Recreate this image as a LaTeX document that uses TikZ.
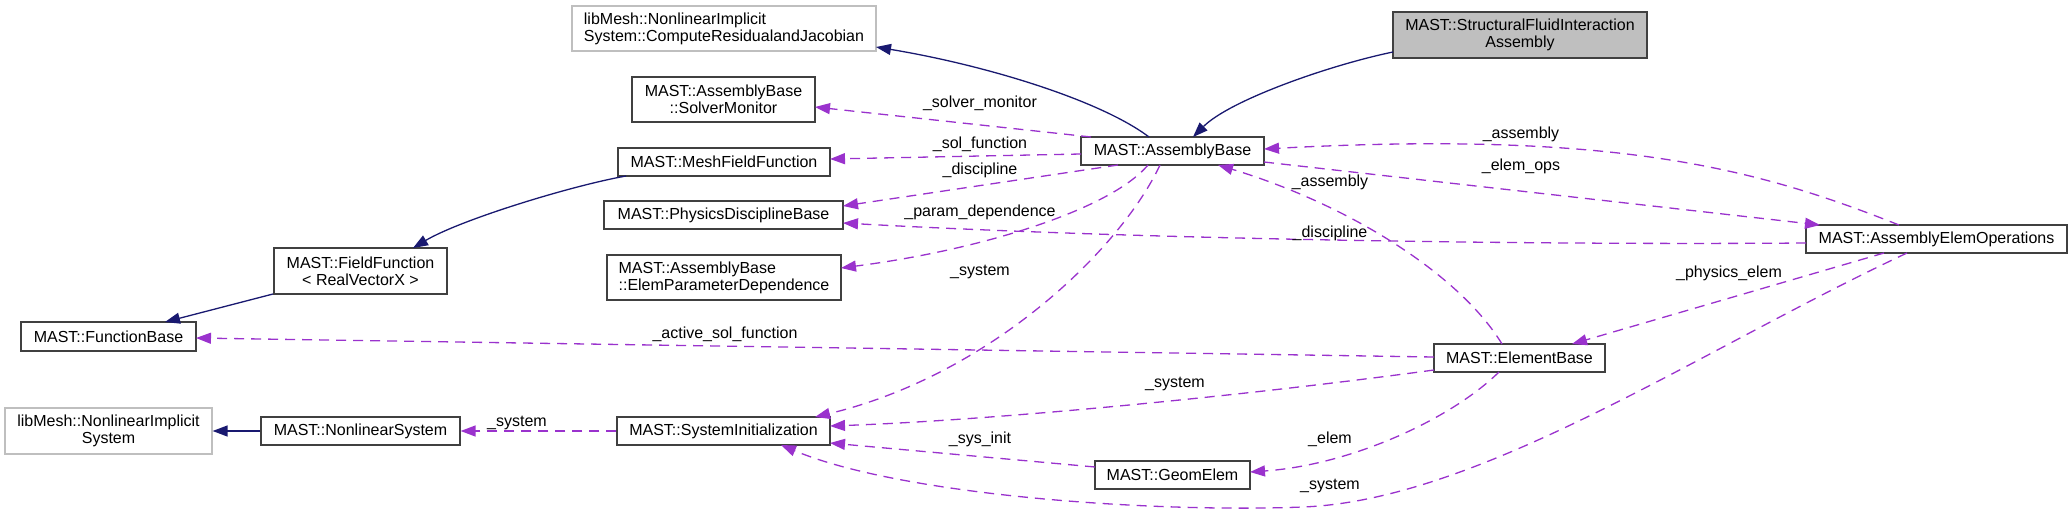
\documentclass[tikz,border=0pt]{standalone}
\usepackage{fontspec}
\setmainfont{Liberation Sans}
\usetikzlibrary{arrows.meta,calc}
\definecolor{navyedge}{HTML}{191970}
\definecolor{useedge}{HTML}{9A32CD}
\definecolor{extgray}{HTML}{BFBFBF}
\definecolor{boxborder}{HTML}{404040}
\newcommand{\dxfont}{\fontsize{16}{17}\selectfont}
\tikzset{
  cls/.style={draw=boxborder, fill=white, line width=1.2pt, inner sep=0pt, font=\dxfont, align=center},
  extcls/.style={cls, draw=extgray},
  curcls/.style={cls, fill=extgray},
  inh/.style={draw=navyedge, line width=1.3pt, -{Triangle[length=15pt,width=11pt]}},
  useline/.style={draw=useedge, line width=1.3pt, dash pattern=on 10pt off 7pt, -{Triangle[length=15pt,width=11pt]}},
  lbl/.style={font=\dxfont, inner sep=0pt, anchor=center}
}
\begin{document}
\begin{tikzpicture}[x=1pt,y=-1pt]
\useasboundingbox (0,0) rectangle (2072,514);
% nodes
\node[extcls, minimum width=304pt, minimum height=45pt, align=left] (lmCR) at (724,28.5) {libMesh::NonlinearImplicit\\System::ComputeResidualandJacobian};
\node[curcls, minimum width=254pt, minimum height=46pt] (sfi) at (1520,35) {MAST::StructuralFluidInteraction\\Assembly};
\node[cls, minimum width=183pt, minimum height=45pt] (sm) at (723.5,99.5) {MAST::AssemblyBase\\::SolverMonitor};
\node[cls, minimum width=212pt, minimum height=28pt] (mff) at (724,162) {MAST::MeshFieldFunction};
\node[cls, minimum width=239pt, minimum height=28pt] (pdb) at (723.5,215) {MAST::PhysicsDisciplineBase};
\node[cls, minimum width=234pt, minimum height=45pt, align=left] (epd) at (724,277.5) {MAST::AssemblyBase\\::ElemParameterDependence};
\node[cls, minimum width=213pt, minimum height=28pt] (si) at (723.5,431) {MAST::SystemInitialization};
\node[cls, minimum width=183pt, minimum height=28pt] (ab) at (1172.5,151) {MAST::AssemblyBase};
\node[cls, minimum width=171pt, minimum height=28pt] (eb) at (1519.5,358) {MAST::ElementBase};
\node[cls, minimum width=155pt, minimum height=28pt] (ge) at (1172.5,475) {MAST::GeomElem};
\node[cls, minimum width=261pt, minimum height=28pt] (aeo) at (1936.5,239) {MAST::AssemblyElemOperations};
\node[cls, minimum width=173pt, minimum height=46pt] (ff) at (360.5,271) {MAST::FieldFunction\\< RealVectorX >};
\node[cls, minimum width=175pt, minimum height=29pt] (fb) at (108.5,336.5) {MAST::FunctionBase};
\node[extcls, minimum width=207pt, minimum height=46pt] (lmS) at (108.5,431) {libMesh::NonlinearImplicit\\System};
\node[cls, minimum width=199pt, minimum height=28pt] (nls) at (360.5,431) {MAST::NonlinearSystem};
% inheritance edges
\draw[inh] ($(ab.center)+(-23.5,-14)$) .. controls (1100,100) and (985,65) .. ($(lmCR.center)+(152,18.5)$);
\draw[inh] ($(sfi.center)+(-127,17)$) .. controls (1330,65) and (1230,100) .. ($(ab.center)+(20.5,-14)$);
\draw[inh] ($(mff.center)+(-98,14)$) .. controls (570,186) and (460,220) .. ($(ff.center)+(52.5,-23)$);
\draw[inh] ($(ff.center)+(-87.5,23)$) -- ($(fb.center)+(56.5,-14.5)$);
\draw[inh] (nls.west) -- (lmS.east);
% usage edges
\draw[useline] ($(ab.center)+(-81.5,-14)$) -- ($(sm.center)+(91.5,7.5)$);
\draw[useline] ($(ab.center)+(-91.5,3)$) -- ($(mff.center)+(106,-3)$);
\draw[useline] ($(ab.center)+(-54.5,14)$) -- ($(pdb.center)+(119.5,-9)$);
\draw[useline] ($(aeo.center)+(-130.5,4)$) .. controls (1550,245) and (1150,240) .. ($(pdb.center)+(119.5,8)$);
\draw[useline] ($(ab.center)+(-24.5,14)$) .. controls (1110,210) and (980,250) .. ($(epd.center)+(117,-9.5)$);
\draw[useline] ($(ab.center)+(-12.5,14)$) .. controls (1120,250) and (990,375) .. ($(si.center)+(91.5,-14)$);
\draw[useline] ($(eb.center)+(-17.5,-14)$) .. controls (1460,275) and (1350,205) .. ($(ab.center)+(45.5,14)$);
\draw[useline] ($(ab.center)+(91.5,11)$) -- ($(aeo.center)+(-116.5,-14)$);
\draw[useline] ($(aeo.center)+(-37.5,-14)$) .. controls (1760,170) and (1620,130) .. ($(ab.center)+(91.5,-2)$);
\draw[useline] ($(aeo.center)+(-52.5,14)$) -- ($(eb.center)+(52.5,-14)$);
\draw[useline] ($(aeo.center)+(-29.5,14)$) .. controls (1700,350) and (1480,500) .. (1303,507) .. controls (1150,513) and (900,495) .. ($(si.center)+(57.5,14)$);
\draw[useline] ($(eb.center)+(-85.5,-1)$) -- ($(fb.center)+(87.5,1.5)$);
\draw[useline] ($(eb.center)+(-85.5,12)$) .. controls (1250,395) and (1000,420) .. ($(si.center)+(106.5,-5)$);
\draw[useline] ($(eb.center)+(-20.5,14)$) .. controls (1450,420) and (1350,465) .. ($(ge.center)+(77.5,-3)$);
\draw[useline] ($(ge.center)+(-77.5,-8)$) -- ($(si.center)+(106.5,12)$);
\draw[useline] (si.west) -- (nls.east);
% labels
\node[lbl] (l1) at (980,103) {\_solver\_monitor};
\node[lbl] (l2) at (980,144) {\_sol\_function};
\node[lbl] (l3) at (980,170) {\_discipline};
\node[lbl] (l4) at (980,212) {\_param\_dependence};
\node[lbl] (l5) at (980,272) {\_system};
\node[lbl] (l6) at (725,334) {\_active\_sol\_function};
\node[lbl] (l7) at (980,439) {\_sys\_init};
\node[lbl] (l8) at (517,423) {\_system};
\node[lbl] (l9) at (1521,134) {\_assembly};
\node[lbl] (l10) at (1521,166) {\_elem\_ops};
\node[lbl] (l11) at (1330,182) {\_assembly};
\node[lbl] (l12) at (1330,233) {\_discipline};
\node[lbl] (l13) at (1729,273) {\_physics\_elem};
\node[lbl] (l14) at (1175,384) {\_system};
\node[lbl] (l15) at (1330,439) {\_elem};
\node[lbl] (l16) at (1330,486) {\_system};
\end{tikzpicture}
\end{document}
